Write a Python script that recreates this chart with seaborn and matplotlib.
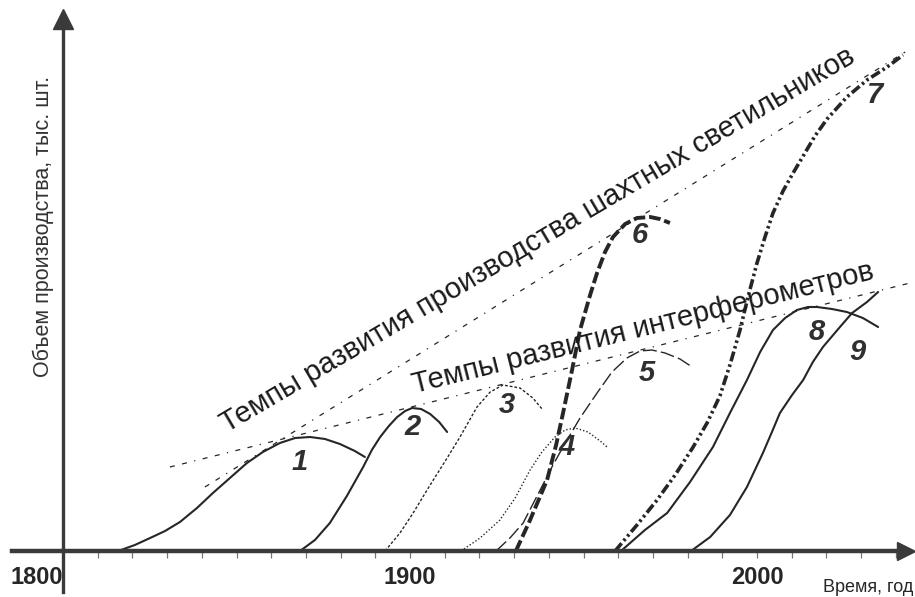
import numpy as np
import matplotlib
matplotlib.use("Agg")
import matplotlib.pyplot as plt
from matplotlib.ticker import FixedLocator
import seaborn as sns

# ── curve data: year vs. production volume (chart units) ────────────────────
c1_year = [1815.9, 1820.7, 1825.1, 1829.4, 1833.7, 1838.6, 1843.2, 1848.1, 1853.0,
           1857.6, 1862.5, 1866.9, 1871.2, 1875.5, 1879.8, 1884.1, 1887.0]
c1_val  = [0, 6, 13, 20, 29, 43, 58, 73, 88, 99, 108, 113, 114, 112, 107, 100, 94]

c2_year = [1868.3, 1872.6, 1876.9, 1881.8, 1886.5, 1889.0, 1891.4, 1893.9, 1896.3,
           1898.6, 1900.6, 1903.2, 1905.8, 1908.4, 1910.7]
c2_val  = [0, 11, 28, 55, 84, 101, 114, 125, 134, 140, 143, 142, 137, 129, 119]

c3_year = [1892.8, 1897.1, 1900.9, 1905.8, 1910.7, 1914.4, 1919.3, 1923.1, 1926.8,
           1931.7, 1935.4, 1938.3]
c3_val  = [0, 18, 38, 66, 93, 114, 144, 159, 166, 163, 153, 141]

c4_year = [1914.7, 1920.2, 1925.9, 1930.3, 1934.6, 1938.0, 1941.8, 1944.7, 1947.6,
           1951.3, 1954.8, 1957.1]
c4_val  = [0, 13, 31, 53, 81, 99, 114, 121, 123, 119, 110, 103]

c5_year = [1924.8, 1928.8, 1932.6, 1937.5, 1941.2, 1944.1, 1949.0, 1953.9, 1958.2,
           1962.5, 1966.3, 1969.7, 1973.5, 1977.8, 1981.3]
c5_val  = [0, 13, 28, 61, 86, 104, 133, 158, 179, 193, 200, 201, 198, 192, 184]

c6_year = [1930.5, 1934.6, 1939.5, 1942.1, 1944.1, 1946.7, 1949.0, 1951.9, 1953.9,
           1956.2, 1958.5, 1962.0, 1965.4, 1969.2, 1972.0, 1974.9]
c6_val  = [0, 31, 71, 106, 138, 181, 221, 256, 278, 299, 314, 327, 333, 334, 332, 328]

c7_year = [1959.1, 1965.4, 1971.2, 1976.4, 1981.6, 1985.6, 1989.3, 1992.2, 1995.1,
           1997.4, 2000.0, 2002.3, 2004.6, 2007.5, 2010.4, 2013.3, 2016.7, 2020.2,
           2025.9, 2031.7, 2037.5, 2042.1]
c7_val  = [0, 26, 51, 76, 104, 128, 155, 186, 221, 254, 288, 314, 338, 360, 378,
           395, 415, 432, 454, 471, 484, 496]

c8_year = [1960.8, 1967.7, 1974.1, 1980.7, 1987.3, 1992.2, 1997.1, 2000.9, 2004.6,
           2008.1, 2011.5, 2014.7, 2017.3, 2021.6, 2025.9, 2030.5, 2034.9]
c8_val  = [0, 21, 38, 69, 104, 138, 171, 199, 221, 233, 241, 244, 244, 242, 239,
           233, 224]

c9_year = [1981.0, 1986.5, 1992.2, 1997.1, 2001.7, 2004.3, 2006.6, 2010.1, 2013.3,
           2016.1, 2019.0, 2023.9, 2027.4, 2031.7, 2034.9]
c9_val  = [0, 14, 36, 64, 98, 119, 138, 156, 171, 189, 204, 224, 238, 249, 259]

# trend lines (start / end)
lamp_year   = [1840.9, 2042.7]
lamp_val    = [64, 499]
interf_year = [1830.8, 2044.1]
interf_val  = [84, 268]

curve_labels = ["1", "2", "3", "4", "5", "6", "7", "8", "9"]
label_year   = [1868.3, 1900.6, 1928.0, 1945.2, 1968.3, 1966.3, 2034.0, 2017.3, 2028.8]
label_val    = [89, 124, 146, 104, 178, 316, 456, 219, 199]

tick_years  = [1800, 1900, 2000]
tick_labels = ["1800", "1900", "2000"]
minor_years = list(range(1810, 2050, 10))

TXT_LAMP   = "Темпы развития производства шахтных светильников"
TXT_INTERF = "Темпы развития интерферометров"
X_LABEL    = "Время, год"
Y_LABEL    = "Объем производства, тыс. шт."

INK = "#262626"

sns.set_theme(style="white")
plt.rcParams["font.family"] = ["Liberation Sans", "DejaVu Sans"]

fig = plt.figure(figsize=(9.15, 5.97), dpi=100)
ax = fig.add_axes([0, 0, 1, 1])
ax.set_xlim(1781.84, 2045.53)
ax.set_ylim(-46, 551)

# ── curves ──────────────────────────────────────────────────────────────────
curves = [
    (c1_year, c1_val, dict(lw=1.5, linestyle="-")),
    (c2_year, c2_val, dict(lw=1.5, linestyle="-")),
    (c3_year, c3_val, dict(lw=1.0, linestyle=(0, (2, 1.4)))),
    (c4_year, c4_val, dict(lw=1.0, linestyle=(0, (1, 1.5)))),
    (c5_year, c5_val, dict(lw=1.0, linestyle=(0, (10, 3)))),
    (c6_year, c6_val, dict(lw=2.8, linestyle=(0, (3, 1)))),
    (c7_year, c7_val, dict(lw=2.6, linestyle=(0, (2.8, 0.9, 0.7, 0.9, 0.7, 0.9)))),
    (c8_year, c8_val, dict(lw=1.5, linestyle="-")),
    (c9_year, c9_val, dict(lw=1.5, linestyle="-")),
]
for yr, val, kw in curves:
    sns.lineplot(x=yr, y=val, ax=ax, color=INK, estimator=None, sort=False, **kw)

trend_ls = (0, (4, 6, 4, 6, 1, 6))
sns.lineplot(x=lamp_year, y=lamp_val, ax=ax, color=INK, lw=0.9,
             linestyle=trend_ls, estimator=None, sort=False)
sns.lineplot(x=interf_year, y=interf_val, ax=ax, color=INK, lw=0.9,
             linestyle=trend_ls, estimator=None, sort=False)

for lbl, x, y in zip(curve_labels, label_year, label_val):
    ax.text(x, y, lbl, fontsize=21, fontweight="bold", fontstyle="italic",
            color="#303030", ha="center", va="center")


# ── rotated trend captions ──────────────────────────────────────────────────
def line_angle(xs, ys):
    p = ax.transData.transform(np.column_stack([xs, ys]))
    return np.degrees(np.arctan2(p[1, 1] - p[0, 1], p[1, 0] - p[0, 0]))


ax.text(1847.3, 118, TXT_LAMP, fontsize=21, color="#1a1a1a",
        rotation=line_angle(lamp_year, lamp_val) - 1.3, rotation_mode="anchor",
        ha="left", va="baseline")
ax.text(1901.4, 158, TXT_INTERF, fontsize=21, color="#1a1a1a",
        rotation=line_angle(interf_year, interf_val), rotation_mode="anchor",
        ha="left", va="baseline")

# ── axes with arrows ────────────────────────────────────────────────────────
axis_col = "#3a3a3a"
for side in ["top", "right"]:
    ax.spines[side].set_visible(False)
ax.spines["bottom"].set_position(("data", 0))
ax.spines["bottom"].set_bounds(1785.3, 2042)
ax.spines["bottom"].set_linewidth(3.2)
ax.spines["bottom"].set_color(axis_col)
ax.spines["left"].set_position(("data", 1800))
ax.spines["left"].set_bounds(-41, 528)
ax.spines["left"].set_linewidth(2.4)
ax.spines["left"].set_color(axis_col)
ax.plot(2043.0, 0, marker=">", ms=13, color=axis_col, clip_on=False, zorder=5)
ax.plot(1800, 532, marker="^", ms=14, color=axis_col, clip_on=False, zorder=5)

ax.set_yticks([])
ax.set_xticks(tick_years, labels=tick_labels)
ax.xaxis.set_minor_locator(FixedLocator(minor_years))
ax.tick_params(axis="x", which="both", direction="out", length=5, width=0.9,
               color="#777777", bottom=True)
ax.tick_params(axis="x", which="major", labelsize=17, pad=6, labelcolor=INK)
for t in ax.get_xticklabels():
    t.set_fontweight("bold")
ax.get_xticklabels()[0].set_ha("right")
ax.grid(False)

ax.text(2045.0, -36, X_LABEL, fontsize=13, color=INK, ha="right", va="center")
ax.text(1794.3, 325, Y_LABEL, fontsize=15.5, color="#333333", rotation=90,
        ha="center", va="center")

fig.savefig("out.png", dpi=100)
